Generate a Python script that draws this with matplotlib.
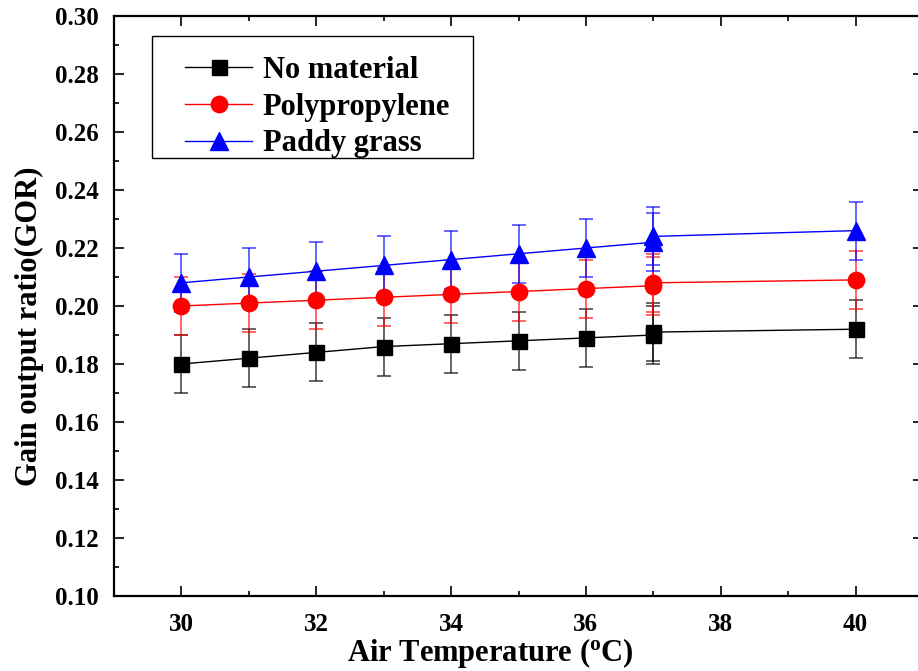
import matplotlib
matplotlib.use("Agg")
import matplotlib.pyplot as plt
from matplotlib.lines import Line2D
from matplotlib.patches import Rectangle
from matplotlib.ticker import MultipleLocator, FormatStrFormatter

# Air temperature (degC) and measured gain output ratio for each case
temps = [30, 31, 32, 33, 34, 35, 36, 37, 37, 40]
gor_no_material = [0.180, 0.182, 0.184, 0.186, 0.187, 0.188, 0.189, 0.190, 0.191, 0.192]
gor_polypropylene = [0.200, 0.201, 0.202, 0.203, 0.204, 0.205, 0.206, 0.207, 0.208, 0.209]
gor_paddy_grass = [0.208, 0.210, 0.212, 0.214, 0.216, 0.218, 0.220, 0.222, 0.224, 0.226]
gor_error = 0.01

series_labels = ["No material", "Polypropylene", "Paddy grass"]
x_ticks = [30, 32, 34, 36, 38, 40]
y_ticks = [0.10, 0.12, 0.14, 0.16, 0.18, 0.20, 0.22, 0.24, 0.26, 0.28, 0.30]

plt.rcParams["font.family"] = ["Liberation Serif", "DejaVu Serif"]
plt.rcParams["font.weight"] = "bold"
plt.rcParams["mathtext.default"] = "regular"

fig = plt.figure(figsize=(9.18, 6.71), dpi=100)
W, H = 918, 671
ax_left, ax_right, ax_top, ax_bottom = 114, 923, 16, 596
ax = fig.add_axes([ax_left / W, 1 - ax_bottom / H,
                   (ax_right - ax_left) / W, (ax_bottom - ax_top) / H])

styles = [
    dict(color="black", marker="s", ms=10.8),
    dict(color="red", marker="o", ms=11.8),
    dict(color="blue", marker="^", ms=12.3),
]
data = [gor_no_material, gor_polypropylene, gor_paddy_grass]

handles = []
for vals, st, lab in zip(data, styles, series_labels):
    ax.errorbar(temps, vals, yerr=gor_error, color=st["color"], lw=1.0,
                marker=st["marker"], ms=st["ms"], mec=st["color"],
                ecolor=st["color"], elinewidth=1.3, capsize=5, capthick=1.3,
                zorder=3)
    handles.append(Line2D([], [], color=st["color"], lw=1.0,
                          marker=st["marker"], ms=st["ms"], mec=st["color"]))

# lighter error bars
for coll in ax.collections:
    coll.set_alpha(0.65)
for ln in ax.lines:
    if ln.get_marker() == "_":
        ln.set_alpha(0.65)

ax.set_xlim(29, 41)
ax.set_ylim(0.10, 0.30)
ax.set_xticks(x_ticks)
ax.set_yticks(y_ticks)
ax.xaxis.set_minor_locator(MultipleLocator(1))
ax.yaxis.set_minor_locator(MultipleLocator(0.01))
ax.yaxis.set_major_formatter(FormatStrFormatter("%.2f"))

ax.tick_params(which="both", direction="in", top=True, right=True,
               width=1.2, labelsize=18)
ax.tick_params(which="major", length=7.5)
ax.tick_params(which="minor", length=3.8)
ax.tick_params(axis="y", pad=11)
ax.tick_params(axis="x", pad=12)
for sp in ax.spines.values():
    sp.set_linewidth(1.6)

ax.set_xlabel("Air Temperature ($^{o}$C)", fontsize=22, fontweight="bold", labelpad=0)
ax.set_ylabel("Gain output ratio(GOR)", fontsize=22, fontweight="bold", labelpad=8)
ax.xaxis.label.set_x((490 - ax_left) / (ax_right - ax_left))
ax.yaxis.label.set_y((ax_bottom - 326) / (ax_bottom - ax_top))

# legend with a frame drawn around it
leg = ax.legend(handles, series_labels, loc="upper left", frameon=False,
                bbox_to_anchor=((185 - ax_left) / (ax_right - ax_left),
                                (ax_bottom - 56) / (ax_bottom - ax_top)),
                borderpad=0, borderaxespad=0, handlelength=2.2,
                handletextpad=0.35, labelspacing=0.25,
                prop={"weight": "bold", "size": 22})
frame = Rectangle(((152 - ax_left) / (ax_right - ax_left),
                   (ax_bottom - 158) / (ax_bottom - ax_top)),
                  (473 - 152) / (ax_right - ax_left),
                  (158 - 36) / (ax_bottom - ax_top),
                  transform=ax.transAxes, fill=False, ec="black", lw=1.0,
                  zorder=5)
ax.add_patch(frame)

fig.savefig("out.png", dpi=100)
